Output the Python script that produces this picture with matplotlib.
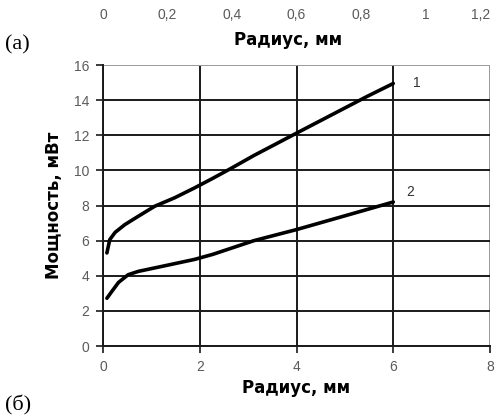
import matplotlib.pyplot as plt

# Curve data (radius in mm, power in mW)
radius_1 = [0.08, 0.14, 0.25, 0.45, 0.73, 1.07, 1.48, 1.89, 2.27, 2.65, 3.12, 4.02, 5.45, 6.0]
power_1 = [5.3, 6.06, 6.47, 6.91, 7.39, 7.96, 8.44, 9.0, 9.55, 10.12, 10.85, 12.15, 14.2, 14.95]
radius_2 = [0.08, 0.18, 0.32, 0.52, 0.73, 1.21, 1.89, 2.27, 3.12, 4.0, 4.97, 6.0]
power_2 = [2.72, 3.10, 3.62, 4.06, 4.25, 4.53, 4.93, 5.22, 6.0, 6.63, 7.39, 8.2]

bottom_ticks = [0, 2, 4, 6, 8]
left_ticks = [0, 2, 4, 6, 8, 10, 12, 14, 16]
top_ticks = [0, 0.2, 0.4, 0.6, 0.8, 1.0, 1.2]
top_labels = ['0', '0,2', '0,4', '0,6', '0,8', '1', '1,2']
curve_names = ['1', '2']

plt.rcParams['font.family'] = ['Liberation Sans', 'DejaVu Sans']

fig = plt.figure(figsize=(5.04, 4.19), dpi=100)
ax = fig.add_axes([0.2044, 0.1742, 0.7679, 0.6706])

# Curves
ax.plot(radius_1, power_1, color='black', lw=2.6, solid_capstyle='round')
ax.plot(radius_2, power_2, color='black', lw=2.6, solid_capstyle='round')

ax.annotate(curve_names[0], (radius_1[-1], power_1[-1]), xytext=(14, 0),
            textcoords='offset points', fontsize=10, color='#333333', va='center')
ax.annotate(curve_names[1], (radius_2[-1], power_2[-1]), xytext=(9, 7),
            textcoords='offset points', fontsize=10, color='#333333', va='center')

# Axes limits, ticks and grid
ax.set_xlim(0, 8)
ax.set_ylim(0, 16)
ax.set_xticks(bottom_ticks)
ax.set_yticks(left_ticks)
ax.grid(True, color='#1a1a1a', lw=1.4)
ax.get_ygridlines()[-1].set_color('#9a9a9a')
ax.get_xgridlines()[-1].set_color('#9a9a9a')
ax.set_axisbelow(True)

for side in ['top', 'right']:
    ax.spines[side].set_visible(False)
for side in ['left', 'bottom']:
    ax.spines[side].set_color('#1a1a1a')
    ax.spines[side].set_linewidth(1.4)

ax.tick_params(direction='out', length=5, width=1.2, color='#1a1a1a',
               labelsize=10, labelcolor='#5a5a5a', pad=5)

ax.set_xlabel('Радиус, мм', fontsize=12, fontweight='bold', family='DejaVu Sans',
              labelpad=4)
ax.set_ylabel('Мощность, мВт', fontsize=12, fontweight='bold', family='DejaVu Sans',
              labelpad=8)

# Second radius scale on top
top = ax.twiny()
top.set_xlim(0, 1.2)
top.set_xticks(top_ticks)
top.set_xticklabels(top_labels)
top.tick_params(length=0, labelsize=10, labelcolor='#5a5a5a', pad=31)
top.get_xticklabels()[-1].set_horizontalalignment('right')
for side in top.spines:
    top.spines[side].set_visible(False)

fig.text(0.572, 0.905, 'Радиус, мм', fontsize=12, fontweight='bold',
         family='DejaVu Sans', ha='center', va='center')

# Panel letters
fig.text(0.01, 0.893, '(а)', fontsize=16, family='Liberation Serif', va='center')
fig.text(0.01, 0.033, '(б)', fontsize=16, family='Liberation Serif', va='center')

fig.savefig('out.png', dpi=100)
